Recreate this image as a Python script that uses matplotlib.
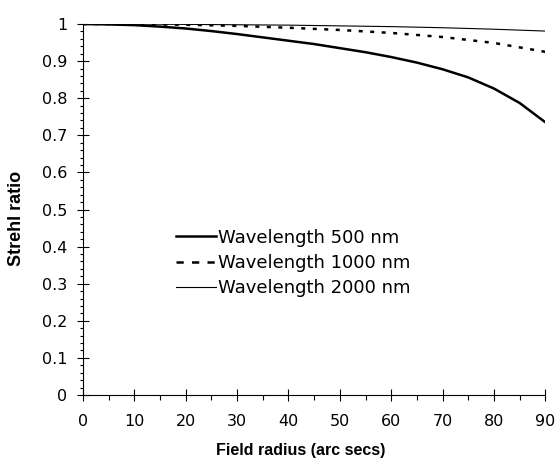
import numpy as np
import matplotlib
matplotlib.use("Agg")
import matplotlib.pyplot as plt
from matplotlib.lines import Line2D
from matplotlib.ticker import MultipleLocator, FuncFormatter

plt.rcParams['font.family'] = ['DejaVu Sans']

# field radius (arc secs)
radius_fine = [0, 5, 10, 15, 20, 25, 30, 35, 40, 45, 50, 55, 60, 65, 70, 75, 80, 85, 90]
strehl_500 = [1.0, 0.999, 0.997, 0.993, 0.988, 0.981, 0.973, 0.964, 0.955, 0.946,
              0.935, 0.924, 0.911, 0.896, 0.878, 0.856, 0.826, 0.787, 0.735]

radius = [0, 10, 20, 30, 40, 50, 60, 70, 80, 90]
strehl_1000 = [1.0, 0.9995, 0.998, 0.995, 0.990, 0.984, 0.976, 0.965, 0.949, 0.925]
strehl_2000 = [1.0, 1.0, 0.999, 0.998, 0.997, 0.995, 0.993, 0.990, 0.986, 0.981]

labels = ['Wavelength 500 nm', 'Wavelength 1000 nm', 'Wavelength 2000 nm']

fig = plt.figure(figsize=(5.56, 4.62), dpi=100)
ax = fig.add_axes([0.149, 0.145, 0.832, 0.803])

ax.plot(radius_fine, strehl_500, color='black', lw=1.8, solid_capstyle='butt')
ax.plot(radius, strehl_1000, color='black', lw=1.8, dashes=(1.6, 3.0), dash_capstyle='butt')
ax.plot(radius, strehl_2000, color='black', lw=0.8)

ax.set_xlim(0, 90)
ax.set_ylim(0, 1)
ax.xaxis.set_major_locator(MultipleLocator(10))
ax.xaxis.set_minor_locator(MultipleLocator(5))
ax.yaxis.set_major_locator(MultipleLocator(0.1))
ax.yaxis.set_minor_locator(MultipleLocator(0.02))
ax.yaxis.set_major_formatter(FuncFormatter(lambda v, p: f"{v:.1f}".rstrip('0').rstrip('.') if v else '0'))

for s in ['top', 'right']:
    ax.spines[s].set_visible(False)
for s in ['left', 'bottom']:
    ax.spines[s].set_linewidth(0.8)

ax.tick_params(which='major', direction='inout', width=0.8, labelsize=11.5)
ax.tick_params(axis='x', which='major', length=9, pad=9.5)
ax.tick_params(axis='y', which='major', length=8, pad=7)
ax.tick_params(axis='x', which='minor', direction='out', length=3.4, width=0.8)
ax.tick_params(axis='y', which='minor', direction='out', length=2.4, width=0.8)

ax.set_xlabel('Field radius (arc secs)', family='Liberation Sans', fontsize=11.5, fontweight='bold')
ax.set_ylabel('Strehl ratio', family='Liberation Sans', fontsize=13, fontweight='bold')
ax.xaxis.set_label_coords(0.471, -0.13)
ax.yaxis.set_label_coords(-0.125, 0.477)

handles = [Line2D([], [], color='black', lw=1.8),
           Line2D([], [], color='black', lw=1.8, dashes=(2.9, 3.3)),
           Line2D([], [], color='black', lw=0.8)]
ax.legend(handles, labels, loc='upper left', bbox_to_anchor=(0.202, 0.448),
          bbox_transform=ax.transAxes, frameon=False, fontsize=13,
          handlelength=2.2, handletextpad=0.1, labelspacing=0.4,
          borderpad=0, borderaxespad=0)

fig.savefig('out.png', dpi=100)
